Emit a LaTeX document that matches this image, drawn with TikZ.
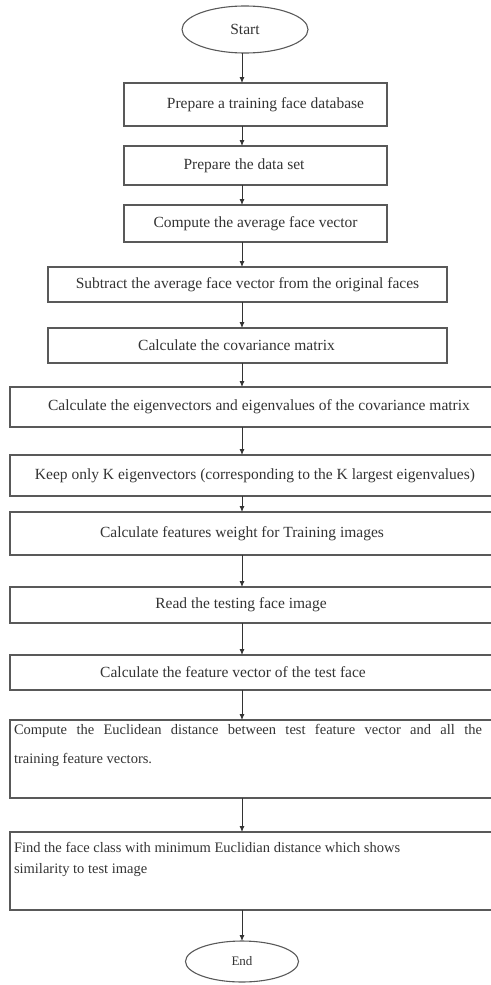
\documentclass[tikz,border=0pt]{standalone}
\usepackage{fontspec}
\setmainfont{Liberation Serif}
\usetikzlibrary{positioning,shapes.geometric,arrows.meta}

\begin{document}
\begin{tikzpicture}[
  x=1pt, y=1pt,
  step box/.style={draw=black!65, line width=1.1pt, outer sep=0pt,
                   inner sep=0pt, align=center, text=black!80,
                   font=\fontsize{15.5}{18}\selectfont},
  note box/.style={draw=black!65, line width=1.1pt, outer sep=0pt,
                   inner xsep=4pt, inner ysep=4pt, text=black!80,
                   minimum width=490pt, font=\fontsize{14.5}{18}\selectfont},
  terminal/.style={draw=black!65, line width=1.1pt, ellipse, outer sep=0pt,
                   inner sep=0pt, text=black!80},
  flow/.style={->, draw=black!80, line width=0.9pt},
  >={Latex[length=6pt,width=5pt]}
]
\useasboundingbox (0,0) rectangle (490,-985);
\coordinate (spine) at (242,0);

% Start
\node[terminal, minimum width=126pt, minimum height=47pt,
      font=\fontsize{15.5}{18}\selectfont] (start) at (245,-29.5) {Start};

% Narrow steps
\node[step box, minimum width=263pt, minimum height=43pt,
      below=30pt of start, xshift=10.5pt] (traindb) {\hspace*{20pt}Prepare a training face database};
\node[step box, minimum width=263pt, minimum height=39pt,
      below=20pt of traindb] (dataset) {Prepare the data set\hspace*{23pt}};
\node[step box, minimum width=263pt, minimum height=37pt,
      below=20pt of dataset] (avgface) {Compute the average face vector};

% Middle steps
\node[step box, minimum width=399pt, minimum height=35pt,
      below=25pt of avgface, xshift=-8pt] (subtract) {Subtract the average face vector from the original faces};
\node[step box, minimum width=399pt, minimum height=35pt,
      below=26pt of subtract] (covar) {Calculate the covariance matrix\hspace*{22pt}};

% Wide steps (cut off at the right edge)
\node[step box, minimum width=490pt, minimum height=40pt,
      below=24pt of covar, xshift=7.5pt] (eigen) {\hspace*{8pt}Calculate the eigenvectors and eigenvalues of the covariance matrix};
\node[step box, minimum width=490pt, minimum height=41pt,
      below=28pt of eigen] (keepk) {Keep only K eigenvectors (corresponding to the K largest eigenvalues)};
\node[step box, minimum width=490pt, minimum height=43pt,
      below=16pt of keepk] (weights) {Calculate features weight for Training images\hspace*{26pt}};
\node[step box, minimum width=490pt, minimum height=36pt,
      below=32pt of weights] (readtest) {Read the testing face image\hspace*{28pt}};
\node[step box, minimum width=490pt, minimum height=35pt,
      below=32pt of readtest] (testvec) {Calculate the feature vector of the test face\hspace*{44pt}};

% Two-line steps
\node[note box, below=30pt of testvec] (distance) {\parbox[c][70pt][t]{482pt}{\baselineskip=29pt
  \makebox[468pt][s]{Compute the Euclidean distance between test feature vector and all the}\\
  training feature vectors.}};
\node[note box, below=34pt of distance] (match) {\parbox[c][70pt][t]{482pt}{\baselineskip=21pt
  \vspace*{6pt}Find the face class with minimum Euclidian distance which shows\\
  similarity to test image}};

% End
\node[terminal, minimum width=113pt, minimum height=41pt,
      font=\fontsize{13}{16}\selectfont, below=31pt of match, xshift=-13pt] (end) {End};

% Connections
\draw[flow] (start.south -| spine) -- (traindb.north -| spine);
\draw[flow] (traindb.south -| spine) -- (dataset.north -| spine);
\draw[flow] (dataset.south -| spine) -- (avgface.north -| spine);
\draw[flow] (avgface.south -| spine) -- (subtract.north -| spine);
\draw[flow] (subtract.south -| spine) -- (covar.north -| spine);
\draw[flow] (covar.south -| spine) -- (eigen.north -| spine);
\draw[flow] (eigen.south -| spine) -- (keepk.north -| spine);
\draw[flow] (keepk.south -| spine) -- (weights.north -| spine);
\draw[flow] (weights.south -| spine) -- (readtest.north -| spine);
\draw[flow] (readtest.south -| spine) -- (testvec.north -| spine);
\draw[flow] (testvec.south -| spine) -- (distance.north -| spine);
\draw[flow] (distance.south -| spine) -- (match.north -| spine);
\draw[flow] (match.south -| spine) -- (end.north -| spine);

\end{tikzpicture}
\end{document}
